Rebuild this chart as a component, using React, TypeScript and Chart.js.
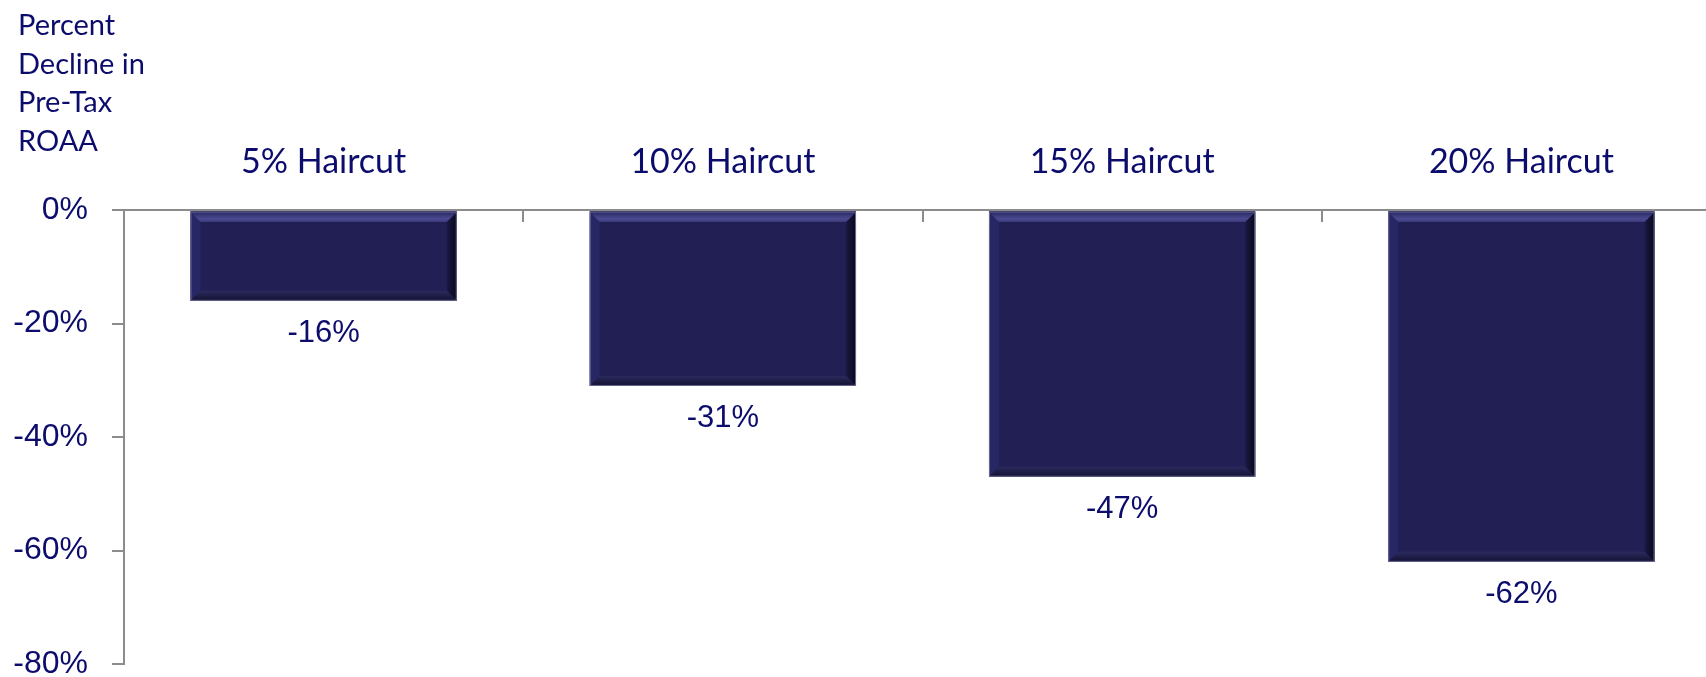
import React, { useEffect, useRef } from "react";
import { Chart, registerables } from "chart.js";

Chart.register(...registerables);

const categories = ["5% Haircut", "10% Haircut", "15% Haircut", "20% Haircut"];
const declineValues = [-16, -31, -47, -62];
const yMin = -80;
const yMax = 0;
const yStep = 20;
const yAxisTitleLines = ["Percent", "Decline in", "Pre-Tax", "ROAA"];

const NAVY = "#0c0c6c";
const AXIS = "#8c8c8c";
const BAR = "#211f53";

const bevelPlugin = {
  id: "bevel",
  afterDatasetsDraw(chart: any) {
    const ctx = chart.ctx;
    const meta = chart.getDatasetMeta(0);
    meta.data.forEach((bar: any) => {
      const { x, y, base, width } = bar.getProps(["x", "y", "base", "width"], true);
      const L = x - width / 2;
      const R = x + width / 2;
      const T = Math.min(y, base) + 1;
      const B = Math.max(y, base);
      const b = 10;
      ctx.save();
      const poly = (pts: number[][], fill: any) => {
        ctx.beginPath();
        ctx.moveTo(pts[0][0], pts[0][1]);
        for (let i = 1; i < pts.length; i++) ctx.lineTo(pts[i][0], pts[i][1]);
        ctx.closePath();
        ctx.fillStyle = fill;
        ctx.fill();
      };
      poly([[L, T], [L + b, T + b], [L + b, B - b], [L, B]], "#282765");
      const gr = ctx.createLinearGradient(R - b, 0, R, 0);
      gr.addColorStop(0, "#1a1944");
      gr.addColorStop(1, "#08081a");
      poly([[R, T], [R, B], [R - b, B - b], [R - b, T + b]], gr);
      const gt = ctx.createLinearGradient(0, T, 0, T + b);
      gt.addColorStop(0, "#2a2963");
      gt.addColorStop(0.7, "#4b4a92");
      gt.addColorStop(1, "#3a3978");
      poly([[L, T], [R, T], [R - b, T + b], [L + b, T + b]], gt);
      const gb = ctx.createLinearGradient(0, B - b, 0, B);
      gb.addColorStop(0, "#2b2a5e");
      gb.addColorStop(1, "#121130");
      poly([[L, B], [R, B], [R - b, B - b], [L + b, B - b]], gb);
      ctx.strokeStyle = "#6a6a96";
      ctx.lineWidth = 1;
      ctx.strokeRect(L + 0.5, T, width - 1, B - T - 0.5);
      ctx.restore();
    });
  },
};

const valueLabelPlugin = {
  id: "valueLabels",
  afterDatasetsDraw(chart: any) {
    const ctx = chart.ctx;
    const meta = chart.getDatasetMeta(0);
    const data = chart.data.datasets[0].data;
    ctx.save();
    ctx.font = '31px "Liberation Sans", Arial, sans-serif';
    ctx.fillStyle = NAVY;
    ctx.textAlign = "center";
    ctx.textBaseline = "middle";
    meta.data.forEach((bar: any, i: number) => {
      const { x, y, base } = bar.getProps(["x", "y", "base"], true);
      ctx.fillText(`${data[i]}%`, x, Math.max(y, base) + 33);
    });
    ctx.restore();
  },
};

const categoryTickPlugin = {
  id: "categoryTicks",
  afterDraw(chart: any) {
    const ctx = chart.ctx;
    const xs = chart.scales.x;
    const top = chart.chartArea.top;
    ctx.save();
    ctx.strokeStyle = AXIS;
    ctx.lineWidth = 2;
    for (let i = 1; i <= categories.length; i++) {
      const px =
        i < categories.length
          ? (xs.getPixelForValue(i - 1) + xs.getPixelForValue(i)) / 2
          : chart.chartArea.right;
      ctx.beginPath();
      ctx.moveTo(Math.round(px), top);
      ctx.lineTo(Math.round(px), top + 12);
      ctx.stroke();
    }
    ctx.restore();
  },
};

const yTitlePlugin = {
  id: "yTitle",
  afterDraw(chart: any) {
    const ctx = chart.ctx;
    ctx.save();
    ctx.font = '29px Lato, "Noto Sans", sans-serif';
    ctx.fillStyle = NAVY;
    ctx.textAlign = "left";
    ctx.textBaseline = "middle";
    yAxisTitleLines.forEach((line, i) => {
      ctx.fillText(line, 18, 26 + i * 38.5);
    });
    ctx.restore();
  },
};

export default function App() {
  const ref = useRef<HTMLCanvasElement | null>(null);
  useEffect(() => {
    if (!ref.current) return;
    const chart = new Chart(ref.current, {
      type: "bar",
      data: {
        labels: categories,
        datasets: [
          {
            data: declineValues,
            backgroundColor: BAR,
            borderWidth: 0,
            barPercentage: 0.667,
            categoryPercentage: 1,
          },
        ],
      },
      options: {
        responsive: false,
        animation: false,
        layout: { padding: { left: 10, right: 19, top: 120, bottom: 13 } },
        plugins: {
          legend: { display: false },
          tooltip: { enabled: false },
          title: { display: false },
        },
        scales: {
          x: {
            position: "top",
            offset: true,
            grid: { display: true, drawOnChartArea: false, drawTicks: false },
            border: { display: true, color: AXIS, width: 2, z: 1 },
            ticks: {
              color: NAVY,
              font: { family: 'Lato, "Noto Sans", sans-serif', size: 34 },
              padding: 28,
              maxRotation: 0,
            },
            afterFit(scale: any) {
              scale.height = 90;
              scale.paddingLeft = 0;
              scale.paddingRight = 0;
            },
          },
          y: {
            min: yMin,
            max: yMax,
            grid: {
              display: true,
              drawOnChartArea: false,
              drawTicks: true,
              tickLength: 12,
              color: AXIS,
              lineWidth: 2,
            },
            border: { display: true, color: AXIS, width: 2, z: 1 },
            ticks: {
              stepSize: yStep,
              color: NAVY,
              padding: 24,
              font: { family: '"Liberation Sans", Arial, sans-serif', size: 32 },
              callback: (v: any) => `${v}%`,
            },
            afterFit(scale: any) {
              scale.width = 114;
              scale.paddingTop = 0;
              scale.paddingBottom = 0;
            },
          },
        },
      },
      plugins: [bevelPlugin, valueLabelPlugin, categoryTickPlugin, yTitlePlugin],
    });
    return () => chart.destroy();
  }, []);

  return (
    <div
      style={{
        position: "fixed",
        left: 0,
        top: 0,
        width: "1706px",
        height: "677px",
        overflow: "hidden",
        background: "#ffffff",
      }}
    >
      <canvas ref={ref} width={1740} height={677} style={{ display: "block" }} />
    </div>
  );
}
